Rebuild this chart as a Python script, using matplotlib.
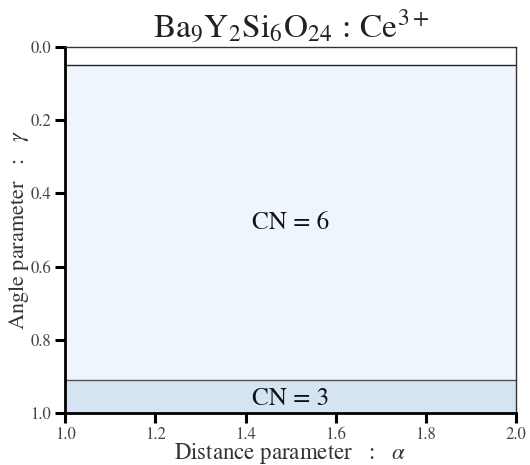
import matplotlib

matplotlib.use("Agg")
import matplotlib.pyplot as plt

# region boundaries along the angle parameter (gamma) and their labels
region_bounds = [0.0, 0.05, 0.91, 1.0]
region_colors = ["#ffffff", "#eff5fd", "#d5e4f3"]
region_labels = ["", "CN = 6", "CN = 3"]
label_y = [None, 0.48, 0.962]
x_range = [1.0, 2.0]
x_ticks = [1.0, 1.2, 1.4, 1.6, 1.8, 2.0]
y_ticks = [0.0, 0.2, 0.4, 0.6, 0.8, 1.0]

plt.rcParams["font.family"] = "STIXGeneral"
plt.rcParams["mathtext.fontset"] = "stix"

fig, ax = plt.subplots(figsize=(5.3, 4.65), dpi=100)
fig.subplots_adjust(left=0.123, right=0.974, top=0.899, bottom=0.112)

for i in range(len(region_colors)):
    ax.axhspan(region_bounds[i], region_bounds[i + 1], color=region_colors[i], lw=0, zorder=0)
for b in region_bounds[1:-1]:
    ax.axhline(b, color="#222222" if b < 0.5 else "#555555", lw=1.0, zorder=1)
for lab, y in zip(region_labels, label_y):
    if lab:
        ax.text(sum(x_range) / 2, y, lab, ha="center", va="center", fontsize=18, color="#111111")

ax.set_xlim(*x_range)
ax.set_ylim(1.0, 0.0)
ax.set_xticks(x_ticks)
ax.set_yticks(y_ticks)
ax.tick_params(direction="out", length=7, width=2.2, labelsize=12, color="black", labelcolor="#444444")
ax.tick_params(axis="x", pad=3)
ax.tick_params(axis="y", pad=3)
for side in ["left", "bottom"]:
    ax.spines[side].set_linewidth(2)
    ax.spines[side].set_color("black")
for side in ["top", "right"]:
    ax.spines[side].set_linewidth(1)
    ax.spines[side].set_color("#333333")

ax.set_xlabel(r"Distance parameter   :   $\alpha$", fontsize=16.5, color="#333333", labelpad=-1)
ax.set_ylabel(r"Angle parameter   :   $\gamma$", fontsize=16, color="#333333", labelpad=0)
ax.set_title(r"$\mathrm{Ba_9Y_2Si_6O_{24}}\,:\,\mathrm{Ce^{3+}}$", fontsize=24, color="#222222", pad=5)

fig.savefig("out.png", dpi=100)
